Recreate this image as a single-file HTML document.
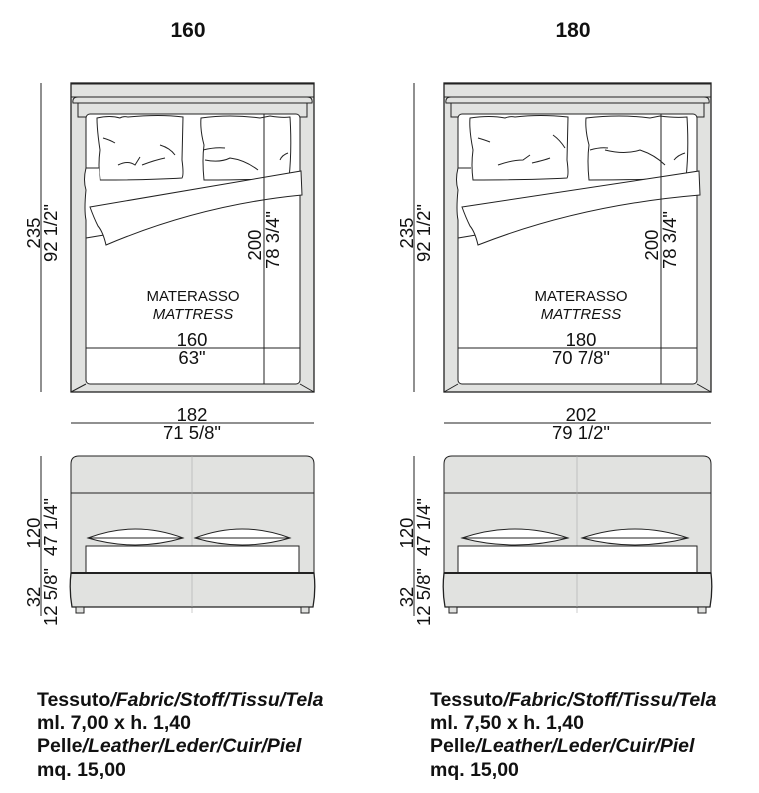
<!DOCTYPE html>
<html><head><meta charset="utf-8"><style>
html,body{margin:0;padding:0;background:#fff;}
svg{display:block}
text{font-family:"Liberation Sans",sans-serif;fill:#111}
.b{font-weight:bold}
</style></head><body>
<svg width="759" height="793" viewBox="0 0 759 793" xmlns="http://www.w3.org/2000/svg">
<g stroke="#222" stroke-width="1" fill="none">

<!-- ===== LEFT TOP VIEW ===== -->
<rect x="71" y="83" width="243" height="309" fill="#e1e2e0" stroke-width="1.3"/>
<line x1="71" y1="83.5" x2="314" y2="83.5" stroke-width="2"/>
<line x1="71" y1="97" x2="314" y2="97"/>
<path d="M73 103 Q72 97 78 97 L307 97 Q313 97 312 103 Z" fill="#e1e2e0"/>
<line x1="73" y1="103" x2="312" y2="103"/>
<path d="M78 103 L78 117 L86 117 M307 103 L307 117 L300 117"/>
<rect x="86" y="114" width="214" height="270" rx="4" fill="#fff"/>
<path d="M71 392 L86 384 M314 392 L300 384"/>
<path d="M97 118 Q110 115 120 118 Q123 116 128 117 Q160 114 183 117 L182 160 Q184 175 182 178 Q150 180 100 180 Q98 165 100 150 Q97 130 97 118 Z" fill="#fff"/>
<path d="M118 165 Q128 160 135 165 L140 157 M142 165 Q155 160 165 158 M160 145 Q170 148 175 155 M103 138 Q110 140 115 143"/>
<path d="M201 118 Q230 114 260 118 L270 116 Q282 118 290 117 Q292 150 289 178 Q250 180 204 180 Q202 160 204 145 Q200 130 201 118 Z" fill="#fff"/>
<path d="M203 150 Q215 147 225 148 M205 160 Q220 163 230 158 Q245 160 258 170 M280 160 Q282 155 288 153"/>
<path d="M99 168 L86 168 Q83 180 86 190 Q84 210 86 220 L86 238 L104 235" fill="#fff"/>
<path d="M90 207 L301 171 L302 195 Q200 205 106 245 Q103 232 98 226 Q94 218 90 207 Z" fill="#fff"/>
<line x1="264" y1="114" x2="264" y2="384"/>
<line x1="86" y1="348" x2="300" y2="348"/>
<line x1="41" y1="83" x2="41" y2="392"/>
<line x1="71" y1="423" x2="314" y2="423"/>

<!-- ===== RIGHT TOP VIEW ===== -->
<rect x="444" y="83" width="267" height="309" fill="#e1e2e0" stroke-width="1.3"/>
<line x1="444" y1="83.5" x2="711" y2="83.5" stroke-width="2"/>
<line x1="444" y1="97" x2="711" y2="97"/>
<path d="M446 103 Q445 97 451 97 L704 97 Q710 97 709 103 Z" fill="#e1e2e0"/>
<line x1="446" y1="103" x2="709" y2="103"/>
<path d="M451 103 L451 117 L458 117 M704 103 L704 117 L697 117"/>
<rect x="458" y="114" width="239" height="270" rx="4" fill="#fff"/>
<path d="M444 392 L458 384 M711 392 L697 384"/>
<path d="M470 118 Q490 115 505 118 Q510 116 515 117 Q540 114 568 117 L567 160 Q569 175 567 178 Q530 180 473 180 Q471 165 473 150 Q469 130 470 118 Z" fill="#fff"/>
<path d="M498 165 Q512 160 523 160 L530 155 M532 163 Q545 160 550 158 M553 135 Q560 140 565 148 M478 138 Q485 140 490 142"/>
<path d="M586 118 Q620 114 650 118 L660 116 Q675 118 687 117 Q689 150 686 178 Q640 180 589 180 Q587 160 589 145 Q585 130 586 118 Z" fill="#fff"/>
<path d="M590 150 Q600 147 608 148 M605 150 Q625 155 640 150 Q655 155 665 165 M674 160 Q678 155 685 153"/>
<path d="M471 168 L458 168 Q455 180 458 190 Q456 210 458 220 L458 238 L476 235" fill="#fff"/>
<path d="M462 207 L699 171 L700 195 Q580 205 478 245 Q475 232 470 226 Q466 218 462 207 Z" fill="#fff"/>
<line x1="661" y1="114" x2="661" y2="384"/>
<line x1="458" y1="348" x2="697" y2="348"/>
<line x1="414" y1="83" x2="414" y2="392"/>
<line x1="444" y1="423" x2="711" y2="423"/>

<!-- ===== LEFT FRONT ===== -->
<path d="M71 573 L71 464 Q71 456 79 456 L306 456 Q314 456 314 464 L314 573 Z" fill="#e1e2e0"/>
<line x1="71" y1="493" x2="314" y2="493"/>
<line x1="192" y1="456" x2="192" y2="613" stroke="#aaa" stroke-width="0.6"/>
<rect x="86" y="546" width="213" height="27" fill="#fff"/>
<path d="M88 538 Q135 520 183 538 Q135 552 88 538 Z" fill="#fff"/>
<line x1="88" y1="538" x2="183" y2="538"/>
<path d="M195 538 Q242 520 290 538 Q242 552 195 538 Z" fill="#fff"/>
<line x1="195" y1="538" x2="290" y2="538"/>
<path d="M71 573 L314 573 Q316 590 313 607 L72 607 Q69 590 71 573 Z" fill="#e1e2e0" stroke-width="1.3"/>
<line x1="192" y1="573" x2="192" y2="607" stroke="#aaa" stroke-width="0.6"/>
<line x1="71" y1="573" x2="314" y2="573" stroke-width="2"/>
<rect x="76" y="607" width="8" height="6" fill="#e1e2e0"/>
<rect x="301" y="607" width="8" height="6" fill="#e1e2e0"/>
<line x1="41" y1="456" x2="41" y2="616"/>

<!-- ===== RIGHT FRONT ===== -->
<path d="M444 573 L444 464 Q444 456 452 456 L703 456 Q711 456 711 464 L711 573 Z" fill="#e1e2e0"/>
<line x1="444" y1="493" x2="711" y2="493"/>
<line x1="577" y1="456" x2="577" y2="613" stroke="#aaa" stroke-width="0.6"/>
<rect x="458" y="546" width="239" height="27" fill="#fff"/>
<path d="M462 538 Q515 520 568 538 Q515 552 462 538 Z" fill="#fff"/>
<line x1="462" y1="538" x2="568" y2="538"/>
<path d="M582 538 Q635 520 688 538 Q635 552 582 538 Z" fill="#fff"/>
<line x1="582" y1="538" x2="688" y2="538"/>
<path d="M444 573 L711 573 Q713 590 710 607 L445 607 Q442 590 444 573 Z" fill="#e1e2e0" stroke-width="1.3"/>
<line x1="577" y1="573" x2="577" y2="607" stroke="#aaa" stroke-width="0.6"/>
<line x1="444" y1="573" x2="711" y2="573" stroke-width="2"/>
<rect x="449" y="607" width="8" height="6" fill="#e1e2e0"/>
<rect x="698" y="607" width="8" height="6" fill="#e1e2e0"/>
<line x1="414" y1="456" x2="414" y2="616"/>
</g>

<text x="188" y="37" font-size="21" class="b" text-anchor="middle">160</text>
<text x="573" y="37" font-size="21" class="b" text-anchor="middle">180</text>

<g font-size="15" text-anchor="middle">
<text x="193" y="301">MATERASSO</text>
<text x="193" y="319" font-style="italic">MATTRESS</text>
<text x="581" y="301">MATERASSO</text>
<text x="581" y="319" font-style="italic">MATTRESS</text>
</g>
<g font-size="18.5" text-anchor="middle">
<!-- left -->
<text x="192" y="346">160</text>
<text x="192" y="364">63"</text>
<text x="192" y="421">182</text>
<text x="192" y="439">71 5/8"</text>
<text transform="translate(40,233) rotate(-90)">235</text>
<text transform="translate(57,233) rotate(-90)">92 1/2"</text>
<text transform="translate(261,245) rotate(-90)">200</text>
<text transform="translate(279,240) rotate(-90)">78 3/4"</text>
<text transform="translate(40,533) rotate(-90)">120</text>
<text transform="translate(57,527) rotate(-90)">47 1/4"</text>
<text transform="translate(40,597) rotate(-90)">32</text>
<text transform="translate(57,597) rotate(-90)">12 5/8"</text>
<!-- right -->
<text x="581" y="346">180</text>
<text x="581" y="364">70 7/8"</text>
<text x="581" y="421">202</text>
<text x="581" y="439">79 1/2"</text>
<text transform="translate(413,233) rotate(-90)">235</text>
<text transform="translate(430,233) rotate(-90)">92 1/2"</text>
<text transform="translate(658,245) rotate(-90)">200</text>
<text transform="translate(676,240) rotate(-90)">78 3/4"</text>
<text transform="translate(413,533) rotate(-90)">120</text>
<text transform="translate(430,527) rotate(-90)">47 1/4"</text>
<text transform="translate(413,597) rotate(-90)">32</text>
<text transform="translate(430,597) rotate(-90)">12 5/8"</text>
</g>

<g font-size="19.5" class="b">
<text x="37" y="706">Tessuto<tspan font-style="italic">/Fabric/Stoff/Tissu/Tela</tspan></text>
<text x="37" y="729">ml. 7,00 x h. 1,40</text>
<text x="37" y="752">Pelle<tspan font-style="italic">/Leather/Leder/Cuir/Piel</tspan></text>
<text x="37" y="776">mq. 15,00</text>
<text x="430" y="706">Tessuto<tspan font-style="italic">/Fabric/Stoff/Tissu/Tela</tspan></text>
<text x="430" y="729">ml. 7,50 x h. 1,40</text>
<text x="430" y="752">Pelle<tspan font-style="italic">/Leather/Leder/Cuir/Piel</tspan></text>
<text x="430" y="776">mq. 15,00</text>
</g>
</svg>
</body></html>
